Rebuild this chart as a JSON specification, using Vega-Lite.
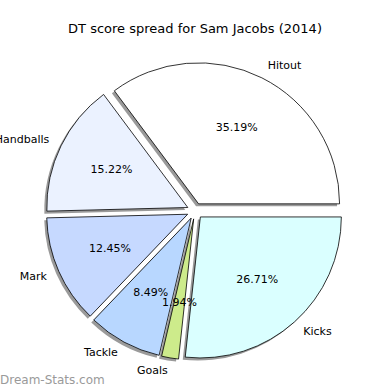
{
  "$schema": "https://vega.github.io/schema/vega-lite/v6.json",
  "width": 388,
  "height": 360,
  "autosize": {"type": "none"},
  "padding": {"left": 1, "right": 1, "top": 31, "bottom": 0},
  "background": "white",
  "title": {"text": "DT score spread for Sam Jacobs (2014)", "font": "DejaVu Sans", "fontSize": 13, "fontWeight": "normal", "color": "black", "anchor": "middle", "offset": -5},
  "config": {"view": {"stroke": null}},
  "data": {"values": [
    {"i": 1, "category": "Hitout", "pct": 35.19},
    {"i": 2, "category": "Handballs", "pct": 15.22},
    {"i": 3, "category": "Mark", "pct": 12.45},
    {"i": 4, "category": "Tackle", "pct": 8.49},
    {"i": 5, "category": "Goals", "pct": 1.94},
    {"i": 6, "category": "Kicks", "pct": 26.71}
  ]},
  "transform": [
    {"window": [{"op": "sum", "field": "pct", "as": "cum"}], "sort": [{"field": "i"}], "frame": [null, 0]},
    {"calculate": "datum.cum - datum.pct", "as": "start"},
    {"calculate": "datum.cum - datum.pct / 2", "as": "mid"},
    {"calculate": "format(datum.pct, '.2f') + '%'", "as": "pctText"}
  ],
  "layer": [
    {
      "mark": {"type": "arc", "outerRadius": 141, "fill": "#9a9a9a",
        "xOffset": {"expr": "8*cos(datum.mid/50*PI) - 2.5"},
        "yOffset": {"expr": "-8*sin(datum.mid/50*PI) + 2.5"}},
      "encoding": {
        "theta": {"field": "start", "type": "quantitative", "stack": null, "scale": {"domain": [0, 100], "range": [1.5708, -4.7124]}},
        "theta2": {"field": "cum"}
      }
    },
    {
      "mark": {"type": "arc", "outerRadius": 141, "stroke": "black", "strokeWidth": 0.8,
        "xOffset": {"expr": "8*cos(datum.mid/50*PI)"},
        "yOffset": {"expr": "-8*sin(datum.mid/50*PI)"}},
      "encoding": {
        "theta": {"field": "start", "type": "quantitative", "stack": null, "scale": {"domain": [0, 100], "range": [1.5708, -4.7124]}},
        "theta2": {"field": "cum"},
        "color": {"field": "category", "type": "nominal", "legend": null,
          "scale": {"domain": ["Hitout", "Handballs", "Mark", "Tackle", "Goals", "Kicks"],
                    "range": ["#ffffff", "#ebf2ff", "#c6d9ff", "#b8d7ff", "#cdeb8b", "#daffff"]}}
      }
    },
    {
      "mark": {"type": "text", "radius": 93, "font": "DejaVu Sans", "fontSize": 11, "color": "black", "baseline": "middle", "align": "center"},
      "encoding": {
        "theta": {"field": "mid", "type": "quantitative", "stack": null},
        "text": {"field": "pctText"}
      }
    },
    {
      "mark": {"type": "text", "radius": 162, "font": "DejaVu Sans", "fontSize": 11, "color": "black", "baseline": "middle",
        "align": {"expr": "cos(datum.mid/50*PI) > 0 ? 'left' : 'right'"}},
      "encoding": {
        "theta": {"field": "mid", "type": "quantitative", "stack": null},
        "text": {"field": "category"}
      }
    },
    {
      "data": {"values": [{"t": "Dream-Stats.com"}]},
      "mark": {"type": "text", "x": -1, "y": {"expr": "height - 11"}, "align": "left", "baseline": "middle", "font": "DejaVu Sans", "fontSize": 12, "color": "#9a9a9a"},
      "encoding": {"text": {"field": "t"}}
    }
  ]
}
